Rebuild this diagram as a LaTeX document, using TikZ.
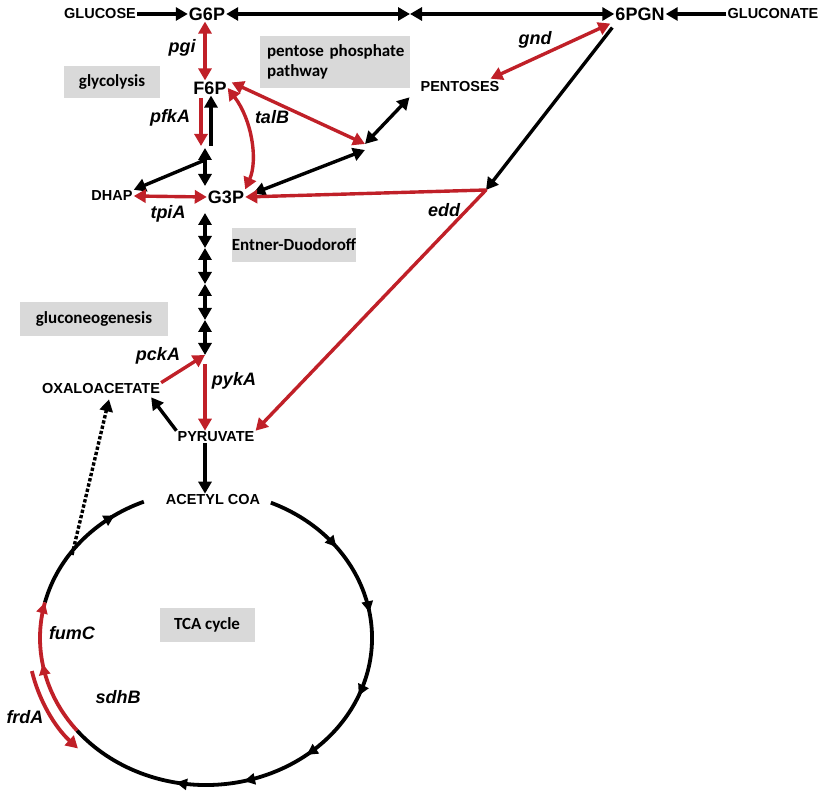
\documentclass[tikz,border=0pt]{standalone}
\usepackage{fontspec}
\setmainfont{Liberation Sans}
\newfontfamily\boxfont{Carlito}
\usetikzlibrary{arrows.meta}
\usetikzlibrary{calc}
\usetikzlibrary{decorations.markings}
\definecolor{enzred}{RGB}{192,32,40}
\definecolor{boxgray}{RGB}{217,217,217}
\tikzset{
  met/.style={font=\bfseries\fontsize{14.5}{14.5}\selectfont,inner sep=1pt},
  bigmet/.style={font=\bfseries\fontsize{18}{18}\selectfont,inner sep=1pt},
  gene/.style={font=\bfseries\itshape\fontsize{18}{18}\selectfont,inner sep=1pt},
  area/.style={fill=boxgray,font=\boxfont\bfseries\fontsize{17}{20}\selectfont,inner sep=0pt,align=left},
  flux/.style={line width=3.4pt,-{Triangle[length=12pt,width=13pt]}},
  both/.style={line width=3.4pt,{Triangle[length=12pt,width=13pt]}-{Triangle[length=12pt,width=13pt]}},
  enz/.style={color=enzred},
  cyc/.style={line width=3.8pt}
}
\begin{document}
\begin{tikzpicture}[x=1pt,y=1pt]
\useasboundingbox (0,0) rectangle (830,800);
% metabolites
\node[met] (glc) at (100,786) {GLUCOSE};
\node[bigmet] (g6p) at (207,786) {G6P};
\node[bigmet] (pgn) at (640,786) {6PGN};
\node[met] (gln) at (773,786) {GLUCONATE};
\node[bigmet] (f6p) at (210,712) {F6P};
\node[met] (pent) at (460,713) {PENTOSES};
\node[met] (dhap) at (112,604) {DHAP};
\node[bigmet] (g3p) at (226,603) {G3P};
\node[met] (oaa) at (101,411) {OXALOACETATE};
\node[met] (pyr) at (216,363) {PYRUVATE};
\node[met] (aca) at (213,300) {ACETYL COA};
\coordinate (mid) at (410,786);
\coordinate (jn) at (205,652);
\coordinate (tk) at (365,656);
\coordinate (ed) at (486,610);
% areas
\node[area,minimum width=96pt,minimum height=32pt] (glyc) at (112,718) {glycolysis};
\node[area,minimum width=150pt,minimum height=52pt,text width=136pt] (ppp) at (335,738) {\mbox{pentose phosphate}\\pathway};
\node[area,minimum width=122pt,minimum height=34pt] (entd) at (294,555) {Entner-Duodoroff};
\node[area,minimum width=148pt,minimum height=34pt] (glng) at (94,481) {gluconeogenesis};
\node[area,minimum width=95pt,minimum height=34pt] (tca) at (207,175) {TCA cycle};
% genes
\node[gene] (pgi) at (182,752) {pgi};
\node[gene] (pfka) at (170,682) {pfkA};
\node[gene] (talb) at (272,683) {talB};
\node[gene] (tpia) at (168,586) {tpiA};
\node[gene] (gnd) at (535,760) {gnd};
\node[gene] (edd) at (444,590) {edd};
\node[gene] (pcka) at (158,444) {pckA};
\node[gene] (pyka) at (234,419) {pykA};
\node[gene] (fumc) at (72,167) {fumC};
\node[gene] (sdhb) at (118,103) {sdhB};
\node[gene] (frda) at (25,83) {frdA};
% top line
\draw[flux] (glc) -- (g6p);
\draw[flux] (gln) -- (pgn);
\draw[both] (g6p) -- (mid);
\draw[both] (mid) -- (pgn);
% upper glycolysis
\draw[both,enz] (g6p.south -| 205,0) -- ($(f6p.north)+(-5,0)$);
\draw[flux,enz] (201,702) -- (201,654);
\draw[flux] (211,654) -- (f6p.south -| 211,0);
\draw[both] (jn) -- (205,614);
\draw[flux] (205,640) -- (dhap.north east);
\draw[both,enz] (dhap.east) -- (g3p.west);
\draw[both,enz] (f6p.east) .. controls (252,680) and (258,640) .. (g3p.north east);
% pentose branch
\draw[both,enz] ($(f6p.north east)+(4,-2)$) -- (tk);
\draw[both] (tk) -- ($(pent.south west)+(-10,-4)$);
\draw[both] ($(tk)+(0,-6)$) -- ($(g3p.north east)+(8,-4)$);
\draw[both,enz] ($(pgn.south west)+(-4,-2)$) -- ($(pent.north east)+(-10,2)$);
% Entner-Duodoroff
\draw[flux] ($(pgn.south west)+(-2,-6)$) -- (ed);
\draw[flux,enz,line cap=round] (ed) -- (g3p.east);
\draw[flux,enz] (ed) -- (pyr.north east);
% lower glycolysis
\foreach \a/\b in {587/552,552/516,516/480,480/445}
  \draw[both] (205,\a) -- (205,\b);
\draw[flux,enz] (oaa.north east) -- (205,445);
\draw[flux,enz] (205,436) -- (pyr.north -| 205,0);
\draw[flux] (pyr.north west) -- ($(oaa.south east)+(-10,-2)$);
\draw[flux] (pyr.south -| 205,0) -- (aca.north -| 205,0);
\draw[line width=3.4pt,dotted,-{Triangle[length=12pt,width=13pt]}] (72,245) -- ($(oaa.south)+(8,-4)$);
% TCA cycle
\draw[cyc,decoration={markings,
    mark=at position 0.14 with {\arrow{Triangle[length=11pt,width=11pt]}},
    mark=at position 0.27 with {\arrow{Triangle[length=11pt,width=11pt]}},
    mark=at position 0.42 with {\arrow{Triangle[length=11pt,width=11pt]}},
    mark=at position 0.56 with {\arrow{Triangle[length=11pt,width=11pt]}},
    mark=at position 0.68 with {\arrow{Triangle[length=11pt,width=11pt]}},
    mark=at position 0.80 with {\arrow{Triangle[length=11pt,width=11pt]}},
    mark=at position 1 with {\arrow{Triangle[length=11pt,width=11pt]}}},postaction={decorate}]
  ($(206,162)+(67:166 and 147)$) arc[start angle=67,end angle=-141,x radius=166,y radius=147];
\draw[cyc,decoration={markings,
    mark=at position 0.78 with {\arrow{Triangle[length=11pt,width=11pt]}}},postaction={decorate}]
  ($(206,162)+(166:166 and 147)$) arc[start angle=166,end angle=112,x radius=166,y radius=147];
\draw[cyc,enz,decoration={markings,
    mark=at position 0.55 with {\arrow{Triangle[length=11pt,width=11pt]}},
    mark=at position 1 with {\arrow{Triangle[length=11pt,width=11pt]}}},postaction={decorate}]
  ($(206,162)+(219:166 and 147)$) arc[start angle=219,end angle=166,x radius=166,y radius=147];
\draw[line width=3.8pt,enz,-{Triangle[length=12pt,width=13pt]}]
  ($(206,162)+(192:178 and 159)$) arc[start angle=192,end angle=224,x radius=178,y radius=159];
\end{tikzpicture}
\end{document}
